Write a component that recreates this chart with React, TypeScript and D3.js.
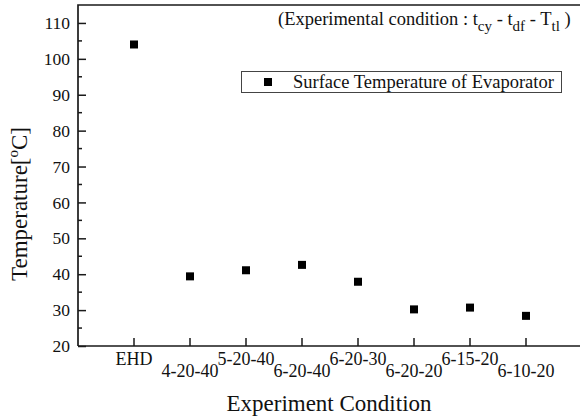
import * as d3 from "d3";
import React, { useEffect, useRef } from "react";

const conditions = ["EHD", "4-20-40", "5-20-40", "6-20-40", "6-20-30", "6-20-20", "6-15-20", "6-10-20"];
const surfaceTemp = [104, 39.4, 41.1, 42.6, 37.9, 30.2, 30.7, 28.4];
const yTicks = [20, 30, 40, 50, 60, 70, 80, 90, 100, 110];

const font = "'Liberation Serif', 'Times New Roman', serif";

const App = () => {
  const svgRef = useRef<SVGSVGElement>(null);

  useEffect(() => {
    const width = 580;
    const height = 418;
    const left = 78;
    const top = 5;
    const bottom = 346;

    const svg = d3.select(svgRef.current).attr("width", width).attr("height", height);
    svg.selectAll("*").remove();

    const x = d3.scaleLinear().domain([0, conditions.length + 1]).range([left, left + 56 * 9]);
    const y = d3.scaleLinear().domain([20, 115]).range([bottom, top]);

    // frame (top + left + bottom; right edge is off the page)
    svg
      .append("path")
      .attr("d", `M${left},${bottom}V${top}H${width + 5}M${left},${bottom}H${width + 5}`)
      .attr("fill", "none")
      .attr("stroke", "#1a1a1a")
      .attr("stroke-width", 1.7);

    // y axis, inward ticks
    const yAxis = svg
      .append("g")
      .attr("transform", `translate(${left},0)`)
      .call(d3.axisLeft(y).tickValues(yTicks).tickSize(-8));
    yAxis.select(".domain").remove();
    yAxis.selectAll("line").attr("stroke", "#1a1a1a").attr("stroke-width", 1.5);
    yAxis
      .selectAll("text")
      .attr("x", -8)
      .attr("font-family", font)
      .attr("font-size", 17.5)
      .attr("fill", "#111");

    // minor y ticks
    svg
      .append("g")
      .selectAll("line")
      .data(d3.range(25, 115, 10))
      .join("line")
      .attr("x1", left)
      .attr("x2", left + 4)
      .attr("y1", (d) => y(d))
      .attr("y2", (d) => y(d))
      .attr("stroke", "#1a1a1a")
      .attr("stroke-width", 1.5);

    // x ticks and staggered labels
    const xg = svg.append("g");
    xg.selectAll("line")
      .data(conditions)
      .join("line")
      .attr("x1", (_, i) => x(i + 1))
      .attr("x2", (_, i) => x(i + 1))
      .attr("y1", bottom)
      .attr("y2", bottom - 8)
      .attr("stroke", "#1a1a1a")
      .attr("stroke-width", 1.5);
    xg.selectAll("text")
      .data(conditions)
      .join("text")
      .attr("x", (_, i) => x(i + 1))
      .attr("y", (_, i) => (i % 2 === 0 ? 365 : 377))
      .attr("text-anchor", "middle")
      .attr("font-family", font)
      .attr("font-size", 18)
      .attr("fill", "#111")
      .text((d) => d);

    // points
    svg
      .append("g")
      .selectAll("rect")
      .data(surfaceTemp)
      .join("rect")
      .attr("x", (_, i) => x(i + 1) - 4)
      .attr("y", (d) => y(d) - 4)
      .attr("width", 8)
      .attr("height", 8)
      .attr("fill", "#000");

    // axis titles
    svg
      .append("text")
      .attr("x", 329)
      .attr("y", 411)
      .attr("text-anchor", "middle")
      .attr("font-family", font)
      .attr("font-size", 23)
      .attr("fill", "#111")
      .text("Experiment Condition");

    const yt = svg
      .append("text")
      .attr("transform", "translate(27,204) rotate(-90)")
      .attr("text-anchor", "middle")
      .attr("font-family", font)
      .attr("font-size", 23)
      .attr("fill", "#111");
    yt.append("tspan").text("Temperature[");
    yt.append("tspan").attr("font-size", 15).attr("dy", -9).text("o");
    yt.append("tspan").attr("dy", 9).text("C]");

    // annotation
    const ann = svg
      .append("text")
      .attr("x", 278)
      .attr("y", 25)
      .attr("font-family", font)
      .attr("font-size", 18.5)
      .attr("fill", "#111");
    ann.append("tspan").text("(Experimental condition : t");
    ann.append("tspan").attr("dy", 6).attr("font-size", 15).text("cy");
    ann.append("tspan").attr("dy", -6).text(" - t");
    ann.append("tspan").attr("dy", 6).attr("font-size", 15).text("df");
    ann.append("tspan").attr("dy", -6).text(" - T");
    ann.append("tspan").attr("dy", 6).attr("font-size", 15).text("tl");
    ann.append("tspan").attr("dy", -6).text(" )");

    // legend
    const lg = svg.append("g");
    lg.append("rect")
      .attr("x", 241.5)
      .attr("y", 71.5)
      .attr("width", 320)
      .attr("height", 21)
      .attr("fill", "#fff")
      .attr("stroke", "#444")
      .attr("stroke-width", 1);
    lg.append("rect").attr("x", 264).attr("y", 78).attr("width", 8).attr("height", 8).attr("fill", "#000");
    lg.append("text")
      .attr("x", 293)
      .attr("y", 88)
      .attr("font-family", font)
      .attr("font-size", 18.5)
      .attr("fill", "#111")
      .text("Surface Temperature of Evaporator");
  }, []);

  return (
    <div style={{ position: "fixed", left: 0, top: 0, background: "#fff" }}>
      <svg ref={svgRef}></svg>
    </div>
  );
};

export default App;
